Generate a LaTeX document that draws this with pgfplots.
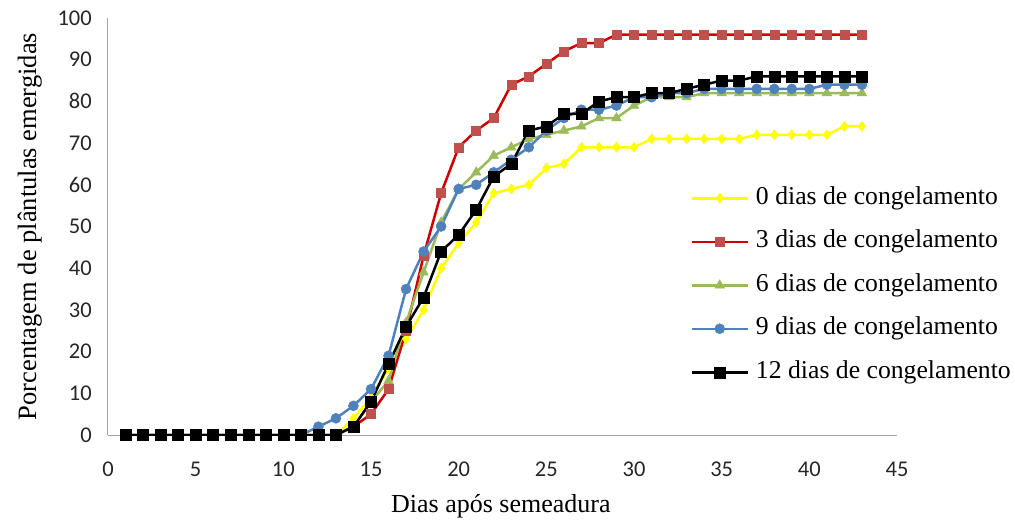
\documentclass[border=0pt]{standalone}
\usepackage{fontspec}
\setmainfont{Liberation Serif}
\newfontfamily\calibri{Carlito}
\usepackage{pgfplots}
\pgfplotsset{compat=1.18}
\definecolor{cyel}{HTML}{FFFF00}
\definecolor{credl}{HTML}{D40000}
\definecolor{credm}{HTML}{C0504D}
\definecolor{cgrn}{HTML}{9BBB59}
\definecolor{cblu}{HTML}{4F81BD}
\begin{document}
\begin{tikzpicture}
\useasboundingbox (-108pt,-87pt) rectangle (907pt,435pt);
\begin{axis}[
  width=789pt, height=417pt, scale only axis,
  xmin=0, xmax=45, ymin=0, ymax=100,
  xtick={0,5,...,45}, ytick={0,10,...,100},
  axis x line*=bottom, axis y line*=left,
  axis line style={draw=black!35, line width=1pt},
  major tick length=0pt,
  /pgf/number format/assume math mode=true,
  tick label style={font=\calibri\fontsize{22.5}{27}\selectfont, text=black!85},
  xticklabel style={anchor=center, inner sep=0pt, yshift=-34pt},
  yticklabel style={anchor=east, inner sep=0pt, xshift=-16pt},
  xlabel={Dias após semeadura},
  ylabel={Porcentagem de plântulas emergidas},
  every axis x label/.style={at={(axis description cs:0.498,-0.172)}, anchor=center, font=\fontsize{26}{30}\selectfont},
  every axis y label/.style={at={(axis description cs:-0.099,0.5)}, rotate=90, anchor=center, font=\fontsize{26.5}{30}\selectfont},
  legend style={draw=none, fill=none, at={(axis description cs:0.738,0.597)}, anchor=north west,
    font=\fontsize{25.7}{30}\selectfont, row sep=19.5pt, column sep=7pt, inner sep=0pt,
    nodes={inner sep=0pt, text height=18pt, text depth=6pt}},
  legend cell align=left,
  legend image code/.code={\draw[mark repeat=2,mark phase=2] plot coordinates {(0pt,0pt) (28pt,0pt) (56pt,0pt)};},
  every axis plot/.append style={line width=2.5pt},
]
\addplot[color=cyel, mark=diamond*, mark size=5pt, mark options={solid, fill=cyel, draw=cyel, line width=0.5pt}] coordinates {
(1,0)(2,0)(3,0)(4,0)(5,0)(6,0)(7,0)(8,0)(9,0)(10,0)(11,0)(12,0)(13,0)(14,4)(15,9)(16,16)(17,23)(18,30)(19,40)(20,46)(21,51)(22,58)(23,59)(24,60)(25,64)(26,65)(27,69)(28,69)(29,69)(30,69)(31,71)(32,71)(33,71)(34,71)(35,71)(36,71)(37,72)(38,72)(39,72)(40,72)(41,72)(42,74)(43,74)};
\addlegendentry{0 dias de congelamento}
\addplot[color=credl, mark=square*, mark size=4.5pt, mark options={solid, fill=credm, draw=credm, line width=0.5pt}] coordinates {
(1,0)(2,0)(3,0)(4,0)(5,0)(6,0)(7,0)(8,0)(9,0)(10,0)(11,0)(12,0)(13,0)(14,2)(15,5)(16,11)(17,25)(18,43)(19,58)(20,69)(21,73)(22,76)(23,84)(24,86)(25,89)(26,92)(27,94)(28,94)(29,96)(30,96)(31,96)(32,96)(33,96)(34,96)(35,96)(36,96)(37,96)(38,96)(39,96)(40,96)(41,96)(42,96)(43,96)};
\addlegendentry{3 dias de congelamento}
\addplot[color=cgrn, mark=triangle*, mark size=5.5pt, mark options={solid, fill=cgrn, draw=cgrn, line width=0.5pt}] coordinates {
(1,0)(2,0)(3,0)(4,0)(5,0)(6,0)(7,0)(8,0)(9,0)(10,0)(11,0)(12,0)(13,0)(14,2)(15,8)(16,13)(17,27)(18,39)(19,51)(20,59)(21,63)(22,67)(23,69)(24,71)(25,72)(26,73)(27,74)(28,76)(29,76)(30,79)(31,81)(32,81)(33,81)(34,82)(35,82)(36,82)(37,82)(38,82)(39,82)(40,82)(41,82)(42,82)(43,82)};
\addlegendentry{6 dias de congelamento}
\addplot[color=cblu, mark=*, mark size=5pt, mark options={solid, fill=cblu, draw=cblu, line width=0.5pt}] coordinates {
(1,0)(2,0)(3,0)(4,0)(5,0)(6,0)(7,0)(8,0)(9,0)(10,0)(11,0)(12,2)(13,4)(14,7)(15,11)(16,19)(17,35)(18,44)(19,50)(20,59)(21,60)(22,63)(23,66)(24,69)(25,73)(26,76)(27,78)(28,78)(29,79)(30,81)(31,81)(32,82)(33,82)(34,83)(35,83)(36,83)(37,83)(38,83)(39,83)(40,83)(41,84)(42,84)(43,84)};
\addlegendentry{9 dias de congelamento}
\addplot[color=black, mark=square*, mark size=5.5pt, mark options={solid, fill=black, draw=black, line width=0.5pt}] coordinates {
(1,0)(2,0)(3,0)(4,0)(5,0)(6,0)(7,0)(8,0)(9,0)(10,0)(11,0)(12,0)(13,0)(14,2)(15,8)(16,17)(17,26)(18,33)(19,44)(20,48)(21,54)(22,62)(23,65)(24,73)(25,74)(26,77)(27,77)(28,80)(29,81)(30,81)(31,82)(32,82)(33,83)(34,84)(35,85)(36,85)(37,86)(38,86)(39,86)(40,86)(41,86)(42,86)(43,86)};
\addlegendentry{12 dias de congelamento}
\end{axis}
\end{tikzpicture}
\end{document}
